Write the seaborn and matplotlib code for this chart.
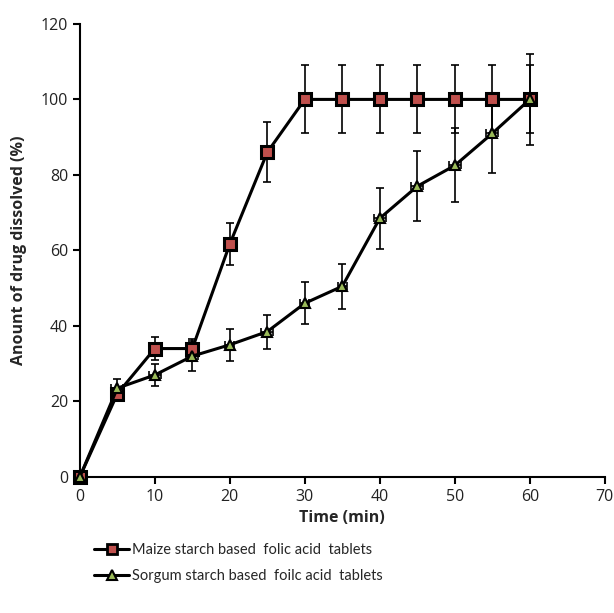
import numpy as np
import pandas as pd
import matplotlib
matplotlib.use('Agg')
import matplotlib.pyplot as plt
import seaborn as sns

# Dissolution data
time = [0, 5, 10, 15, 20, 25, 30, 35, 40, 45, 50, 55, 60]
maize = [0, 22, 34, 34, 61.7, 86, 100, 100, 100, 100, 100, 100, 100]
maize_err = [0, 1.5, 3, 2.5, 5.5, 8, 9, 9, 9, 9, 9, 9, 9]
sorgum = [0, 23.5, 27, 32, 35, 38.5, 46, 50.5, 68.5, 77, 82.5, 91, 100]
sorgum_err = [0, 2.5, 3, 4, 4.3, 4.5, 5.5, 6, 8, 9.3, 9.8, 10.5, 12]
time_err = [0, 0.8, 0.8, 0.8, 0.6, 0.8, 0.6, 0.6, 0.8, 0.8, 0.8, 0.8, 0.8]

maize_lbl = 'Maize starch based  folic acid  tablets'
sorgum_lbl = 'Sorgum starch based  foilc acid  tablets'

df = pd.concat([
    pd.DataFrame({'Time': time, 'Dissolved': maize, 'Tablet': maize_lbl}),
    pd.DataFrame({'Time': time, 'Dissolved': sorgum, 'Tablet': sorgum_lbl}),
], ignore_index=True)

sns.set_style('white')
plt.rcParams['font.family'] = ['Open Sans', 'DejaVu Sans']

fig = plt.figure(figsize=(6.14, 6.13), dpi=100)
ax = fig.add_axes([0.130, 0.222, 0.855, 0.739])

# error bars first
ax.errorbar(time, maize, yerr=maize_err, xerr=time_err, fmt='none', ecolor='black',
            elinewidth=1.2, capsize=3, capthick=1.2, zorder=1)
ax.errorbar(time, sorgum, yerr=sorgum_err, xerr=time_err, fmt='none', ecolor='black',
            elinewidth=1.2, capsize=3, capthick=1.2, zorder=1)

sns.lineplot(data=df, x='Time', y='Dissolved', hue='Tablet', style='Tablet',
             palette=['black', 'black'], markers={maize_lbl: 's', sorgum_lbl: '^'},
             dashes=False, linewidth=2.2, ax=ax, legend=False, zorder=3)

lines = ax.get_lines()
main = [l for l in lines if len(l.get_xdata()) == len(time)][-2:]
main[0].set_markerfacecolor('#C0504D')
main[0].set_markeredgecolor('black')
main[0].set_markeredgewidth(2.2)
main[0].set_markersize(9)
main[1].set_markerfacecolor('#9BBB59')
main[1].set_markeredgecolor('black')
main[1].set_markeredgewidth(1.5)
main[1].set_markersize(6.5)
for l in main:
    l.set_clip_on(False)

ax.set_xlim(0, 70)
ax.set_ylim(0, 120)
ax.set_xticks(range(0, 71, 10))
ax.set_yticks(range(0, 121, 20))
ax.tick_params(axis='both', direction='out', length=5, width=1.5, labelsize=11.5,
               color='black', labelcolor='#222222', bottom=True, left=True)
for s in ['top', 'right']:
    ax.spines[s].set_visible(False)
for s in ['left', 'bottom']:
    ax.spines[s].set_color('black')
    ax.spines[s].set_linewidth(1.5)

ax.set_xlabel('Time (min)', fontsize=11.5, fontweight='bold', labelpad=4)
ax.set_ylabel('Anount of drug dissolved (%)', fontsize=11.5, fontweight='bold', labelpad=10)

handles = [
    plt.Line2D([], [], color='black', lw=2.2, marker='s', markersize=7,
               markerfacecolor='#C0504D', markeredgecolor='black', markeredgewidth=2),
    plt.Line2D([], [], color='black', lw=2.2, marker='^', markersize=6.5,
               markerfacecolor='#9BBB59', markeredgecolor='black', markeredgewidth=1.5),
]
fig.legend(handles, [maize_lbl, sorgum_lbl], loc='upper left',
           bbox_to_anchor=(0.142, 0.126), frameon=False,
           prop={'family': ['Lato', 'DejaVu Sans'], 'size': 10.5},
           handlelength=2.4, handletextpad=0.2, labelspacing=0.85, borderpad=0)

fig.savefig('out.png', dpi=100)
